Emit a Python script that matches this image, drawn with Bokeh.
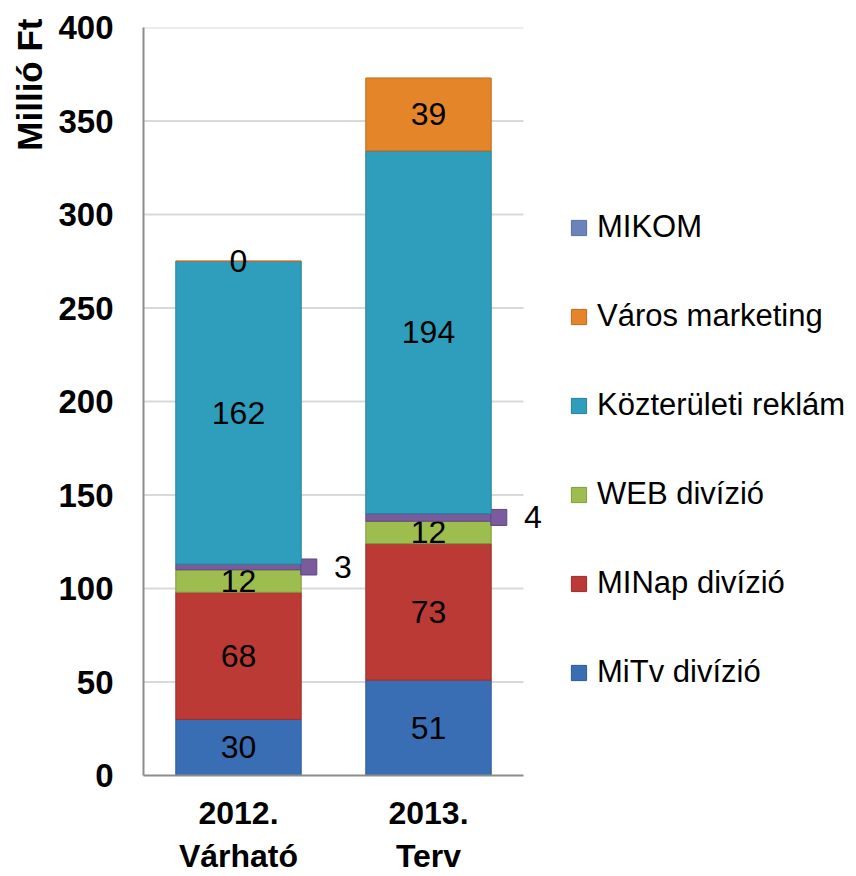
import numpy as np
from bokeh.plotting import figure
from bokeh.models import ColumnDataSource, Legend, LegendItem, Title, FixedTicker, Range1d
from bokeh.core.properties import value
from bokeh.embed import file_html
from bokeh.resources import INLINE

categories = ["2012.\nVárható", "2013.\nTerv"]
series_names = ["MiTv divízió", "MINap divízió", "WEB divízió", "MIKOM",
                "Közterületi reklám", "Város marketing"]
mitv = [30, 51]
minap = [68, 73]
web = [12, 12]
mikom = [3, 4]
kozter = [162, 194]
varos = [0, 39]
y_ticks = [0, 50, 100, 150, 200, 250, 300, 350, 400]
legend_order = ["MIKOM", "Város marketing", "Közterületi reklám", "WEB divízió",
                "MINap divízió", "MiTv divízió"]

fill_colors = ["#3A6EB4", "#BC3A36", "#9DBE4E", "#7A5C9E", "#2F9EBD", "#E5852A"]
line_colors = ["#2C5A96", "#9A2E2B", "#7E9C3C", "#5E4680", "#247F99", "#C06A1C"]
mikom_legend_color = "#6C82BA"

FONT = "Liberation Sans"

n_cat = len(categories)
xpos = np.arange(n_cat) + 0.5

# frame: 420 px wide, 190 px per category -> extra room at right for side labels
p = figure(x_range=Range1d(0, 420 / 190), y_range=(0, 400),
           frame_width=420, frame_height=748, output_backend="svg",
           toolbar_location=None, min_border_left=143, min_border_right=288,
           min_border_top=27, min_border_bottom=99)
p.outline_line_color = None

# horizontal grid lines limited to the category area
p.xgrid.grid_line_color = None
p.ygrid.grid_line_color = None
gy = np.array(y_ticks[1:], dtype=float)
p.segment(x0=np.zeros_like(gy), x1=np.full_like(gy, n_cat), y0=gy, y1=gy,
          line_color="#D9D9D9", line_width=2, level="underlay")

all_vals = [mitv, minap, web, mikom, kozter, varos]
arr = np.array(all_vals, dtype=float)
tops = np.cumsum(arr, axis=0)
bottoms = tops - arr

renderers = {}
for i, name in enumerate(series_names):
    src = ColumnDataSource(dict(x=xpos, top=tops[i], bottom=bottoms[i],
                                mid=(tops[i] + bottoms[i]) / 2,
                                xm=xpos + 0.37, xt=xpos + 0.55,
                                lab=[str(int(v)) for v in arr[i]]))
    r = p.vbar(x="x", top="top", bottom="bottom", width=0.66, source=src,
               fill_color=fill_colors[i], line_color=line_colors[i], line_width=1)
    renderers[name] = r
    if name == "MIKOM":
        p.scatter(x="xm", y="mid", source=src,
                  marker="square", size=16, fill_color=fill_colors[i],
                  line_color=line_colors[i])
        p.text(x="xt", y="mid", text="lab", source=src,
               text_align="center", text_baseline="middle",
               text_font=value(FONT), text_font_size="32px", text_color="black")
    else:
        p.text(x="x", y="mid", text="lab", source=src,
               text_align="center", text_baseline="middle",
               text_font=value(FONT), text_font_size="32px", text_color="black")

# legend proxy for MIKOM (drawn outside the visible range)
proxy_src = ColumnDataSource(dict(x=xpos - 10, top=tops[3], bottom=bottoms[3]))
proxy = p.vbar(x="x", top="top", bottom="bottom", width=0.66, source=proxy_src,
               fill_color=mikom_legend_color, line_color="#5A6FA5")

items = []
for name in legend_order:
    rr = proxy if name == "MIKOM" else renderers[name]
    items.append(LegendItem(label=name, renderers=[rr]))

legend = Legend(items=items, location=(6, 85), orientation="vertical",
                label_text_font=FONT, label_text_font_size="31px",
                label_text_color="black",
                label_height=30, glyph_height=19, glyph_width=19,
                label_standoff=9, spacing=53, padding=6, margin=0,
                border_line_color=None, background_fill_alpha=0)
p.add_layout(legend, "right")

# axes
p.yaxis.ticker = FixedTicker(ticks=y_ticks)
p.yaxis.major_label_text_font = FONT
p.yaxis.major_label_text_font_style = "bold"
p.yaxis.major_label_text_font_size = "33px"
p.yaxis.major_label_text_color = "black"
p.yaxis.major_label_standoff = 30
p.yaxis.major_tick_out = 0
p.yaxis.major_tick_in = 0
p.yaxis.minor_tick_out = 0
p.yaxis.minor_tick_in = 0
p.yaxis.axis_line_color = "#8C8C8C"
p.yaxis.axis_line_width = 2

p.xaxis.ticker = FixedTicker(ticks=list(xpos))
p.xaxis.major_label_overrides = {float(x): c for x, c in zip(xpos, categories)}
p.xaxis.bounds = (0, n_cat)
p.xaxis.major_label_text_font = FONT
p.xaxis.major_label_text_font_style = "bold"
p.xaxis.major_label_text_font_size = "32px"
p.xaxis.major_label_text_color = "black"
p.xaxis.major_label_standoff = 19
p.xaxis.major_tick_out = 0
p.xaxis.major_tick_in = 0
p.xaxis.minor_tick_out = 0
p.xaxis.minor_tick_in = 0
p.xaxis.axis_line_color = "#8C8C8C"
p.xaxis.axis_line_width = 2

ytitle = Title(text="Millió Ft", align="right", text_font=FONT,
               text_font_style="bold", text_font_size="35px",
               text_color="black", offset=-9, standoff=13)
p.add_layout(ytitle, "left")

open("out.html", "w").write(file_html(p, INLINE))
